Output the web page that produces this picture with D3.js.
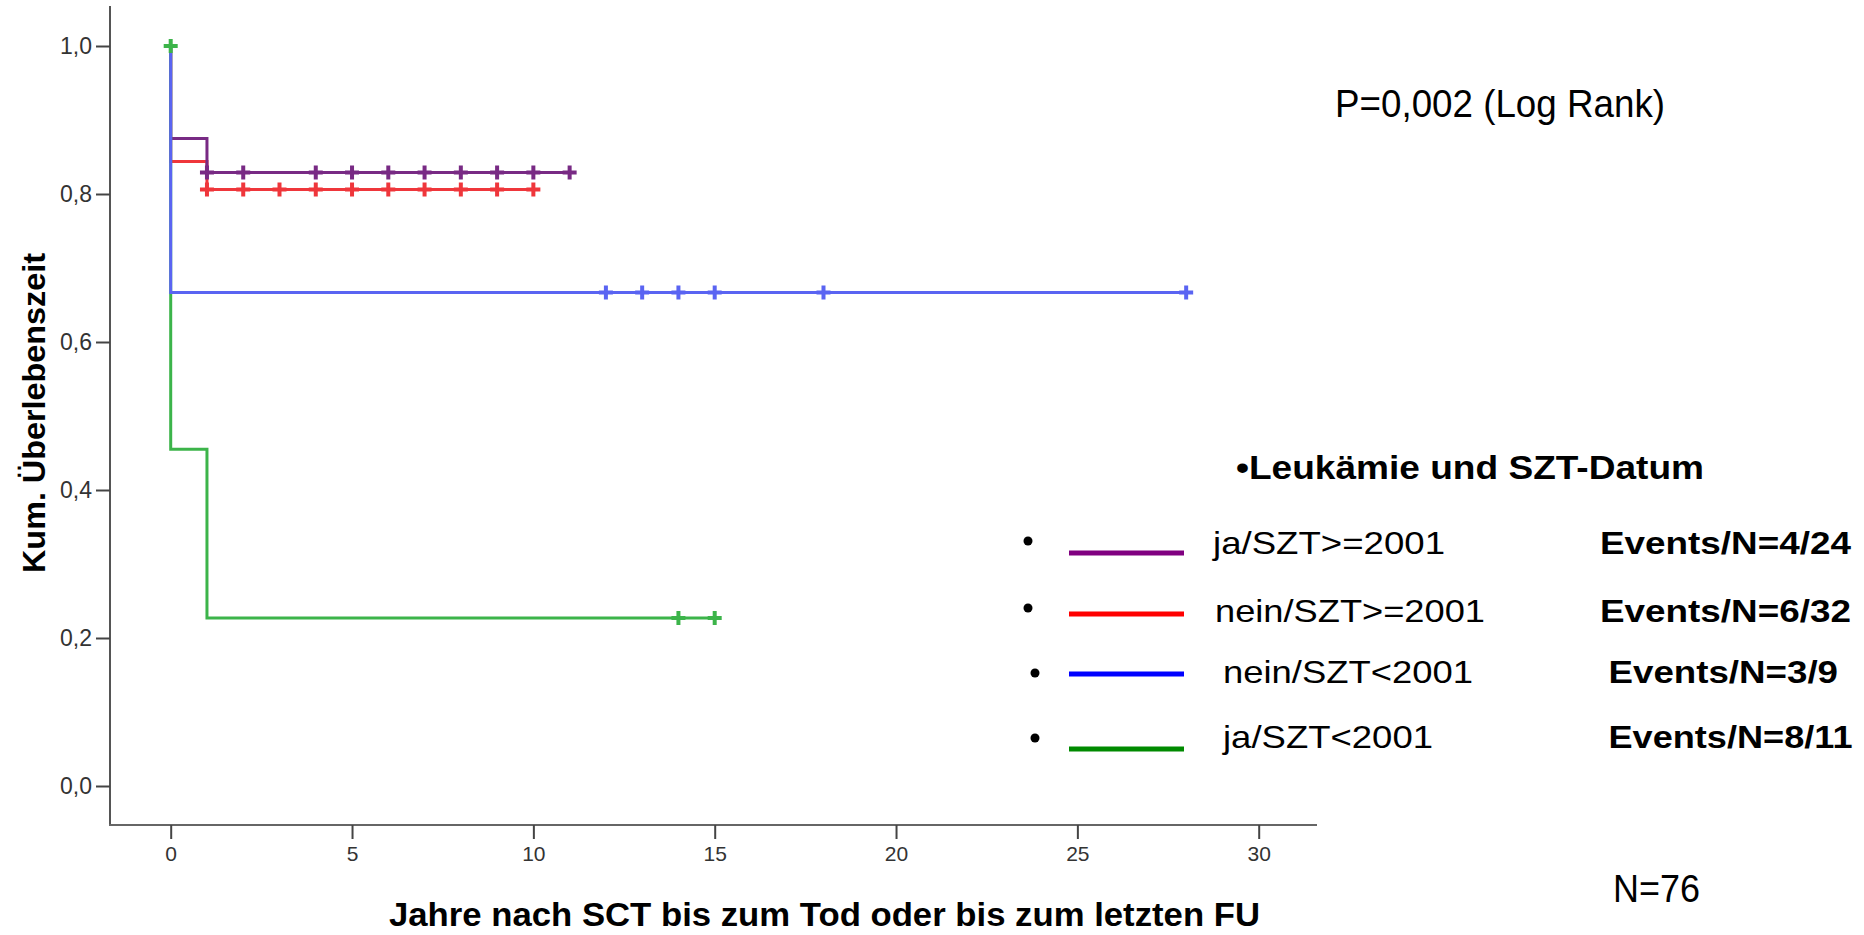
<!DOCTYPE html>
<html>
<head>
<meta charset="utf-8">
<script src="https://cdn.jsdelivr.net/npm/d3@7"></script>
<style>
  html, body { margin: 0; padding: 0; background: #fff; }
  svg { display: block; }
</style>
</head>
<body>
<svg id="chart" width="1864" height="935"></svg>
<script>
// ---------- DATA ----------
const groupLabels = ["ja/SZT>=2001", "nein/SZT>=2001", "nein/SZT<2001", "ja/SZT<2001"];
const eventLabels = ["Events/N=4/24", "Events/N=6/32", "Events/N=3/9", "Events/N=8/11"];

// Kaplan-Meier step points (time in years, cumulative survival)
const jaNeuTimes   = [0, 0, 1, 11];
const jaNeuSurv    = [1.0, 0.875, 0.829, 0.829];
const neinNeuTimes = [0, 0, 1, 10];
const neinNeuSurv  = [1.0, 0.844, 0.806, 0.806];
const neinAltTimes = [0, 0, 28];
const neinAltSurv  = [1.0, 0.667, 0.667];
const jaAltTimes   = [0, 0, 1, 15];
const jaAltSurv    = [1.0, 0.455, 0.227, 0.227];

// censored observations
const jaNeuCensT   = [1, 2, 4, 5, 6, 7, 8, 9, 10, 11];
const jaNeuCensS   = [0.829, 0.829, 0.829, 0.829, 0.829, 0.829, 0.829, 0.829, 0.829, 0.829];
const neinNeuCensT = [1, 2, 3, 4, 5, 6, 7, 8, 9, 10];
const neinNeuCensS = [0.806, 0.806, 0.806, 0.806, 0.806, 0.806, 0.806, 0.806, 0.806, 0.806];
const neinAltCensT = [12, 13, 14, 15, 18, 28];
const neinAltCensS = [0.667, 0.667, 0.667, 0.667, 0.667, 0.667];
const jaAltCensT   = [0, 14, 15];
const jaAltCensS   = [1.0, 0.227, 0.227];

const xTicks = [0, 5, 10, 15, 20, 25, 30];
const yTicks = [0, 0.2, 0.4, 0.6, 0.8, 1.0];

// ---------- STYLE ----------
const FONT = "'Liberation Sans', Arial, Helvetica, sans-serif";
const lineColors   = ["#782a84", "#ef363b", "#5a64f2", "#3cb44a"];
const legendColors = ["#800080", "#ff0000", "#0000ff", "#008a00"];

const series = [
  {t: jaNeuTimes, s: jaNeuSurv, ct: jaNeuCensT, cs: jaNeuCensS, color: lineColors[0]},
  {t: neinNeuTimes, s: neinNeuSurv, ct: neinNeuCensT, cs: neinNeuCensS, color: lineColors[1]},
  {t: neinAltTimes, s: neinAltSurv, ct: neinAltCensT, cs: neinAltCensS, color: lineColors[2]},
  {t: jaAltTimes, s: jaAltSurv, ct: jaAltCensT, cs: jaAltCensS, color: lineColors[3]}
];

const svg = d3.select("#chart");
svg.append("rect").attr("width", 1864).attr("height", 935).attr("fill", "#fff");

const x = d3.scaleLinear().domain([0, 30]).range([170.7, 1258.7]);
const y = d3.scaleLinear().domain([0, 1]).range([786, 46]);

// axis frame lines
svg.append("line").attr("x1", 110).attr("x2", 110).attr("y1", 6).attr("y2", 826)
  .attr("stroke", "#555").attr("stroke-width", 2);
svg.append("line").attr("x1", 109).attr("x2", 1317).attr("y1", 825).attr("y2", 825)
  .attr("stroke", "#666").attr("stroke-width", 2);

// y axis
const yAxis = svg.append("g").attr("transform", "translate(110,0)")
  .call(d3.axisLeft(y).tickValues(yTicks).tickSize(14).tickPadding(4)
    .tickFormat(d => d3.format(".1f")(d).replace(".", ",")));
yAxis.select(".domain").remove();
yAxis.selectAll(".tick line").attr("stroke", "#444").attr("stroke-width", 2);
yAxis.selectAll(".tick text").attr("font-family", FONT).attr("font-size", 23).attr("fill", "#333");

// x axis
const xAxis = svg.append("g").attr("transform", "translate(0,825)")
  .call(d3.axisBottom(x).tickValues(xTicks).tickSize(14).tickPadding(7).tickFormat(d3.format("d")));
xAxis.select(".domain").remove();
xAxis.selectAll(".tick line").attr("stroke", "#444").attr("stroke-width", 2);
xAxis.selectAll(".tick text").attr("font-family", FONT).attr("font-size", 21).attr("fill", "#333");

// axis titles
svg.append("text").attr("x", 824.5).attr("y", 926).attr("text-anchor", "middle")
  .attr("font-family", FONT).attr("font-weight", "bold").attr("font-size", 33)
  .attr("textLength", 871).attr("lengthAdjust", "spacingAndGlyphs").attr("fill", "#000")
  .text("Jahre nach SCT bis zum Tod oder bis zum letzten FU");

svg.append("text").attr("transform", "translate(45,413) rotate(-90)").attr("text-anchor", "middle")
  .attr("font-family", FONT).attr("font-weight", "bold").attr("font-size", 32)
  .attr("textLength", 320).attr("lengthAdjust", "spacingAndGlyphs").attr("fill", "#000")
  .text("Kum. Überlebenszeit");

// curves
const line = d3.line().x(d => x(d[0])).y(d => y(d[1])).curve(d3.curveStepAfter);
const drawOrder = [1, 0, 3, 2];
drawOrder.forEach(i => {
  const sr = series[i];
  const pts = sr.t.map((tv, k) => [tv, sr.s[k]]);
  svg.append("path").datum(pts).attr("d", line)
    .attr("fill", "none").attr("stroke", sr.color).attr("stroke-width", 3);
});

// censor marks
const markOrder = [1, 0, 2, 3];
markOrder.forEach(i => {
  const sr = series[i];
  const pts = sr.ct.map((tv, k) => [tv, sr.cs[k]]);
  svg.append("g").selectAll("path").data(pts).join("path")
    .attr("d", d => {
      const cx = x(d[0]), cy = y(d[1]);
      return `M${cx - 7},${cy}H${cx + 7}M${cx},${cy - 7}V${cy + 7}`;
    })
    .attr("fill", "none").attr("stroke", sr.color).attr("stroke-width", 4);
});

// P value and N
svg.append("text").attr("x", 1335).attr("y", 116.7)
  .attr("font-family", FONT).attr("font-size", 38).attr("fill", "#000")
  .attr("textLength", 330).attr("lengthAdjust", "spacingAndGlyphs")
  .text("P=0,002 (Log Rank)");
svg.append("text").attr("x", 1613).attr("y", 902)
  .attr("font-family", FONT).attr("font-size", 38).attr("fill", "#000")
  .attr("textLength", 87).attr("lengthAdjust", "spacingAndGlyphs")
  .text("N=76");

// legend
svg.append("text").attr("x", 1236).attr("y", 479)
  .attr("font-family", FONT).attr("font-weight", "bold").attr("font-size", 33).attr("fill", "#000")
  .attr("textLength", 468).attr("lengthAdjust", "spacingAndGlyphs")
  .text("•Leukämie und SZT-Datum");

const legBulletX = [1028, 1028, 1035, 1035];
const legBulletY = [541, 608, 673, 738];
const legLineY   = [553, 614, 674, 749];
const legLabelX  = [1213, 1215, 1223, 1223];
const legLabelW  = [232, 270, 250, 210];
const legBase    = [554, 621.5, 683, 748];
const legEventX  = [1600, 1600, 1608.5, 1608.5];
const legEventW  = [251, 251, 229.5, 244];

groupLabels.forEach((g, i) => {
  const row = svg.append("g");
  row.append("circle").attr("cx", legBulletX[i]).attr("cy", legBulletY[i]).attr("r", 4.5).attr("fill", "#000");
  row.append("line").attr("x1", 1069).attr("x2", 1184).attr("y1", legLineY[i]).attr("y2", legLineY[i])
    .attr("stroke", legendColors[i]).attr("stroke-width", 5);
  row.append("text").attr("x", legLabelX[i]).attr("y", legBase[i])
    .attr("font-family", FONT).attr("font-size", 32).attr("fill", "#000")
    .attr("textLength", legLabelW[i]).attr("lengthAdjust", "spacingAndGlyphs")
    .text(g);
  row.append("text").attr("x", legEventX[i]).attr("y", legBase[i])
    .attr("font-family", FONT).attr("font-weight", "bold").attr("font-size", 31).attr("fill", "#000")
    .attr("textLength", legEventW[i]).attr("lengthAdjust", "spacingAndGlyphs")
    .text(eventLabels[i]);
});
</script>
</body>
</html>
